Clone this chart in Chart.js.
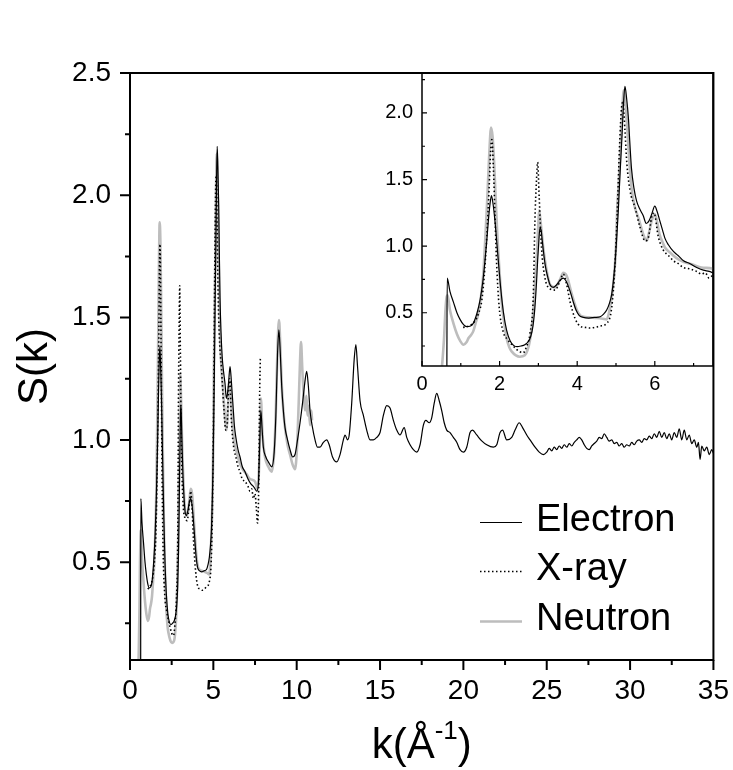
<!DOCTYPE html>
<html>
<head>
<meta charset="utf-8">
<script src="https://cdn.jsdelivr.net/npm/chart.js@4.4.1/dist/chart.umd.min.js"></script>
<style>
body { margin: 0; background: #fff; }
#wrap { position: relative; width: 733px; height: 770px; background: #fff; overflow: hidden; }
#main { position: absolute; left: 0; top: 0; }
#inset { position: absolute; left: 360px; top: 52px; }
</style>
</head>
<body>
<div id="wrap">
<canvas id="main" width="743" height="770"></canvas>
<canvas id="inset" width="363" height="351"></canvas>
</div>
<script>
// values: k in 1/A, S(k)
var electronK = [0.64,0.65,0.72,0.81,0.90,0.98,1.07,1.15,1.25,1.32,1.42,1.50,1.57,1.62,1.67,1.71,1.75,1.79,1.83,1.88,1.93,1.97,2.03,2.10,2.18,2.27,2.36,2.45,2.55,2.65,2.73,2.80,2.86,2.91,2.95,2.98,3.01,3.04,3.07,3.10,3.13,3.18,3.23,3.30,3.38,3.47,3.56,3.64,3.71,3.77,3.84,3.90,3.97,4.05,4.16,4.30,4.45,4.59,4.68,4.76,4.83,4.89,4.94,4.98,5.02,5.06,5.10,5.15,5.19,5.23,5.27,5.32,5.36,5.40,5.46,5.53,5.61,5.70,5.78,5.85,5.92,6.00,6.06,6.13,6.20,6.26,6.35,6.48,6.60,6.74,6.90,7.08,7.25,7.40,7.50,7.60,7.70,7.78,7.85,7.92,8.00,8.15,8.30,8.50,8.65,8.75,8.85,8.93,9.00,9.10,9.20,9.30,9.45,9.60,9.76,9.90,10.05,10.20,10.35,10.48,10.60,10.70,10.80,10.95,11.10,11.25,11.40,11.60,11.80,11.95,12.15,12.40,12.60,12.80,12.90,13.05,13.15,13.30,13.45,13.55,13.65,13.80,14.00,14.20,14.40,14.60,14.80,15.00,15.20,15.40,15.60,15.80,16.00,16.20,16.45,16.60,16.80,17.00,17.20,17.40,17.60,17.75,17.95,18.10,18.25,18.40,18.55,18.70,18.85,19.00,19.20,19.40,19.60,19.80,20.00,20.20,20.40,20.55,20.80,21.10,21.40,21.80,22.00,22.20,22.35,22.60,22.90,23.10,23.35,23.55,23.80,24.00,24.30,24.55,24.80,25.00,25.15,25.30,25.45,25.60,25.75,25.90,26.05,26.20,26.35,26.50,26.65,26.80,26.95,27.10,27.25,27.40,27.55,27.70,27.85,28.00,28.15,28.30,28.45,28.60,28.75,28.90,29.05,29.20,29.35,29.50,29.65,29.80,29.95,30.10,30.25,30.40,30.55,30.70,30.85,31.00,31.15,31.30,31.45,31.60,31.75,31.90,32.05,32.20,32.35,32.50,32.65,32.80,32.95,33.10,33.25,33.40,33.55,33.70,33.85,34.00,34.10,34.20,34.30,34.45,34.60,34.75,34.90,35.00];
var electronS = [0.02,0.76,0.66,0.58,0.50,0.45,0.41,0.395,0.40,0.42,0.50,0.60,0.74,0.88,1.04,1.19,1.31,1.38,1.32,1.19,1.02,0.88,0.68,0.50,0.37,0.29,0.255,0.245,0.25,0.26,0.28,0.32,0.40,0.54,0.72,0.89,1.03,1.14,1.12,1.04,0.96,0.85,0.78,0.71,0.69,0.71,0.745,0.76,0.74,0.70,0.64,0.58,0.52,0.48,0.465,0.46,0.465,0.47,0.49,0.52,0.57,0.64,0.76,0.89,1.07,1.27,1.52,1.80,2.05,2.20,2.12,1.96,1.76,1.58,1.44,1.34,1.28,1.23,1.17,1.19,1.24,1.30,1.26,1.19,1.12,1.06,1.01,0.96,0.93,0.89,0.87,0.84,0.82,0.81,0.80,0.79,0.82,0.98,1.12,1.05,0.97,0.93,0.91,0.89,0.95,1.10,1.35,1.45,1.38,1.22,1.12,1.05,1.00,0.96,0.93,0.94,1.00,1.07,1.15,1.23,1.28,1.22,1.12,1.05,1.00,0.97,0.97,0.99,1.00,0.98,0.93,0.91,0.94,1.00,1.02,1.00,1.02,1.15,1.33,1.39,1.30,1.16,1.10,1.04,1.00,1.00,1.01,1.03,1.10,1.14,1.13,1.08,1.04,1.02,1.05,1.01,0.98,0.96,0.95,0.98,1.06,1.08,1.07,1.09,1.15,1.19,1.16,1.12,1.07,1.04,1.03,1.01,0.99,0.96,0.95,0.97,1.03,1.04,1.02,0.996,0.98,0.97,0.98,1.03,1.04,1.00,1.01,1.04,1.07,1.05,1.02,1.00,0.97,0.95,0.94,0.95,0.965,0.955,0.97,0.96,0.975,0.965,0.98,0.97,0.985,0.975,0.99,1.00,1.01,1.00,0.98,0.965,0.96,0.975,0.985,0.995,1.01,1.005,1.025,1.01,0.995,1.00,0.985,0.99,0.975,0.985,0.97,0.98,0.975,0.99,0.98,0.995,1.00,0.99,1.005,1.00,1.015,1.005,1.025,1.01,1.035,1.01,1.03,1.005,1.025,1.00,1.03,1.01,1.045,1.00,1.04,1.00,1.02,0.985,1.00,0.97,0.99,0.92,0.975,0.955,0.97,0.94,0.96,0.945];

var xrayK = [1.06,1.20,1.37,1.45,1.54,1.60,1.67,1.73,1.77,1.80,1.84,1.88,1.92,1.99,2.09,2.20,2.35,2.50,2.61,2.70,2.78,2.87,2.91,2.95,2.98,3.02,3.08,3.17,3.30,3.43,3.56,3.64,3.73,3.81,3.94,4.07,4.20,4.33,4.46,4.59,4.76,4.89,4.97,5.03,5.09,5.15,5.18,5.23,5.28,5.36,5.49,5.62,5.75,5.83,5.92,5.98,6.09,6.22,6.35,6.48,6.60,6.73,6.90,7.08,7.20,7.30,7.40,7.50,7.58,7.65,7.72,7.78,7.82];
var xrayS = [0.39,0.40,0.44,0.49,0.59,0.76,1.07,1.44,1.72,1.80,1.59,1.24,0.89,0.54,0.36,0.30,0.25,0.21,0.20,0.25,0.34,0.64,1.19,1.49,1.63,1.37,0.99,0.76,0.68,0.67,0.74,0.79,0.71,0.59,0.46,0.40,0.39,0.385,0.39,0.40,0.42,0.54,0.84,1.24,1.74,2.06,2.08,1.87,1.62,1.42,1.29,1.14,1.04,1.06,1.22,1.25,1.07,0.97,0.93,0.89,0.87,0.84,0.83,0.81,0.79,0.80,0.76,0.78,0.72,0.66,0.80,1.20,1.34];

var neutronK = [0.46,0.50,0.53,0.57,0.60,0.63,0.66,0.72,0.81,0.90,0.98,1.07,1.15,1.20,1.26,1.32,1.40,1.45,1.52,1.58,1.63,1.68,1.73,1.78,1.82,1.86,1.90,1.94,2.00,2.05,2.12,2.18,2.25,2.31,2.42,2.52,2.65,2.72,2.78,2.84,2.89,2.93,2.97,3.00,3.02,3.05,3.08,3.12,3.17,3.23,3.30,3.43,3.56,3.64,3.70,3.75,3.86,3.93,3.99,4.08,4.16,4.30,4.50,4.65,4.76,4.84,4.90,4.95,5.00,5.03,5.08,5.12,5.16,5.20,5.24,5.29,5.34,5.40,5.48,5.58,5.70,5.79,5.85,5.92,6.00,6.06,6.12,6.20,6.26,6.40,6.56,6.75,6.99,7.20,7.50,7.65,7.75,7.85,7.95,8.10,8.30,8.50,8.65,8.75,8.85,8.94,9.02,9.10,9.20,9.30,9.45,9.60,9.75,9.90,10.02,10.12,10.20,10.26,10.33,10.42,10.50,10.58,10.65,10.72,10.80,10.88,10.92];
var neutronS = [0.00,0.05,0.15,0.32,0.50,0.61,0.63,0.52,0.42,0.34,0.29,0.26,0.28,0.31,0.33,0.36,0.44,0.49,0.62,0.79,1.05,1.34,1.67,1.89,1.82,1.62,1.35,1.09,0.80,0.59,0.42,0.31,0.24,0.21,0.18,0.17,0.18,0.22,0.29,0.42,0.59,0.80,0.99,1.18,1.27,1.20,1.12,1.00,0.89,0.79,0.71,0.69,0.75,0.80,0.79,0.76,0.64,0.57,0.52,0.48,0.47,0.465,0.46,0.455,0.45,0.53,0.64,0.77,1.00,1.27,1.52,1.77,2.00,2.17,2.08,1.89,1.65,1.44,1.30,1.21,1.09,1.04,1.10,1.19,1.24,1.18,1.09,1.03,0.99,0.95,0.91,0.88,0.86,0.84,0.83,0.80,0.90,1.17,1.02,0.93,0.89,0.87,0.95,1.12,1.38,1.49,1.38,1.23,1.12,1.05,0.98,0.94,0.90,0.88,0.97,1.15,1.32,1.40,1.30,1.18,1.12,1.18,1.10,1.14,1.06,1.12,1.08];

var mainXTicks = [0, 5, 10, 15, 20, 25, 30, 35];
var mainYTicks = [0.5, 1.0, 1.5, 2.0, 2.5];
var insetXTicks = [0, 2, 4, 6];
var insetYTicks = [0.5, 1.0, 1.5, 2.0];

var FONT = '"Liberation Sans", Arial, Helvetica, sans-serif';

function pts(ks, ss) {
    var out = [];
    for (var i = 0; i < ks.length; i++) out.push({x: ks[i], y: ss[i]});
    return out;
}

function makeDatasets() {
    return [
        {label: 'Electron', data: pts(electronK, electronS), borderColor: '#000', borderWidth: 1.2, order: 1},
        {label: 'X-ray', data: pts(xrayK, xrayS), borderColor: '#000', borderWidth: 1.6, borderDash: [1.5, 2.5], order: 2},
        {label: 'Neutron', data: pts(neutronK, neutronS), borderColor: '#bdbdbd', borderWidth: 2.6, order: 3}
    ];
}

// box round the plot and tick marks (major + minor)
var framePlugin = {
    id: 'frame',
    afterDraw: function(chart, args, o) {
        var ctx = chart.ctx, a = chart.chartArea;
        var xs = chart.scales.x, ys = chart.scales.y;
        var dir = o.inside ? -1 : 1;
        ctx.save();
        ctx.strokeStyle = '#000';
        ctx.lineWidth = o.tickWidth;
        ctx.beginPath();
        var v, p, len;
        for (v = Math.ceil(xs.min / o.xStep - 1e-9) * o.xStep; v <= xs.max + 1e-9; v += o.xStep) {
            p = xs.getPixelForValue(v);
            len = o.xMajor.some(function(t) { return Math.abs(t - v) < 1e-6; }) ? o.major : o.minor;
            ctx.moveTo(p, a.bottom);
            ctx.lineTo(p, a.bottom + dir * len);
        }
        for (v = Math.ceil(ys.min / o.yStep - 1e-9) * o.yStep; v <= ys.max + 1e-9; v += o.yStep) {
            p = ys.getPixelForValue(v);
            len = o.yMajor.some(function(t) { return Math.abs(t - v) < 1e-6; }) ? o.major : o.minor;
            ctx.moveTo(a.left, p);
            ctx.lineTo(a.left - dir * len, p);
        }
        ctx.stroke();
        ctx.lineWidth = o.width;
        ctx.strokeRect(a.left, a.top, a.right - a.left, a.bottom - a.top);
        ctx.restore();
    }
};

// legend and axis titles for the big chart
var labelsPlugin = {
    id: 'labels',
    afterDraw: function(chart) {
        var ctx = chart.ctx, a = chart.chartArea;
        ctx.save();
        ctx.fillStyle = '#000';
        // y title
        ctx.font = '42px ' + FONT;
        ctx.textAlign = 'center';
        ctx.textBaseline = 'middle';
        ctx.translate(35, (a.top + a.bottom) / 2);
        ctx.rotate(-Math.PI / 2);
        ctx.fillText('S(k)', 0, 0);
        ctx.setTransform(1, 0, 0, 1, 0, 0);
        // x title with superscript
        ctx.textBaseline = 'alphabetic';
        ctx.textAlign = 'left';
        var big = '42px ' + FONT, small = '26px ' + FONT;
        ctx.font = big;
        var w1 = ctx.measureText('k(Å').width, w3 = ctx.measureText(')').width;
        ctx.font = small;
        var w2 = ctx.measureText('-1').width;
        var x0 = (a.left + a.right) / 2 - (w1 + w2 + w3) / 2, base = 758;
        ctx.font = big;
        ctx.fillText('k(Å', x0, base);
        ctx.font = small;
        ctx.fillText('-1', x0 + w1, base - 19);
        ctx.font = big;
        ctx.fillText(')', x0 + w1 + w2, base);
        // legend
        var rows = [531, 580, 630];
        ctx.font = '38px ' + FONT;
        chart.data.datasets.forEach(function(ds, i) {
            var y = rows[i];
            ctx.save();
            ctx.strokeStyle = ds.borderColor;
            ctx.lineWidth = ds.borderWidth;
            ctx.setLineDash(ds.borderDash || []);
            ctx.beginPath();
            ctx.moveTo(480, y - 8.5);
            ctx.lineTo(522, y - 8.5);
            ctx.stroke();
            ctx.restore();
            ctx.fillText(ds.label, 536, y);
        });
        ctx.restore();
    }
};

function fixWidth(w) { return function(s) { s.width = w; }; }
function fixHeight(h) { return function(s) { s.height = h; }; }
function setTicks(list) { return function(s) { s.ticks = list.map(function(v) { return {value: v}; }); }; }

new Chart(document.getElementById('main'), {
    type: 'line',
    data: {datasets: makeDatasets()},
    plugins: [framePlugin, labelsPlugin],
    options: {
        responsive: false,
        animation: false,
        devicePixelRatio: 1,
        layout: {padding: {left: 0, top: 73, right: 10, bottom: 0}},
        elements: {point: {radius: 0}, line: {cubicInterpolationMode: 'monotone'}},
        scales: {
            x: {
                type: 'linear', min: 0, max: 35,
                afterBuildTicks: setTicks(mainXTicks),
                afterFit: fixHeight(110),
                grid: {display: false, tickLength: 0},
                border: {display: false},
                ticks: {color: '#000', padding: 14, maxRotation: 0, font: {family: FONT, size: 28}}
            },
            y: {
                type: 'linear', min: 0.1, max: 2.5,
                afterBuildTicks: setTicks(mainYTicks),
                afterFit: fixWidth(130),
                grid: {display: false, tickLength: 0},
                border: {display: false},
                ticks: {color: '#000', padding: 19, font: {family: FONT, size: 28},
                    callback: function(v) { return v.toFixed(1); }}
            }
        },
        plugins: {
            legend: {display: false},
            tooltip: {enabled: false},
            frame: {width: 2, tickWidth: 2, inside: false, major: 10, minor: 5,
                xStep: 2.5, yStep: 0.25, xMajor: mainXTicks, yMajor: mainYTicks}
        }
    }
});

var insetCanvas = document.getElementById('inset');
var inset = new Chart(insetCanvas, {
    type: 'line',
    data: {datasets: makeDatasets()},
    plugins: [framePlugin],
    options: {
        responsive: false,
        animation: false,
        devicePixelRatio: 1,
        layout: {padding: {left: 0, top: 0, right: 10, bottom: 0}},
        elements: {point: {radius: 0}, line: {cubicInterpolationMode: 'monotone'}},
        scales: {
            x: {
                type: 'linear', min: 0, max: 7.5,
                afterBuildTicks: setTicks(insetXTicks),
                afterFit: fixHeight(37),
                grid: {display: false, tickLength: 0},
                border: {display: false},
                ticks: {color: '#000', padding: 6, maxRotation: 0, font: {family: FONT, size: 20}}
            },
            y: {
                type: 'linear', min: 0.1, max: 2.3,
                afterBuildTicks: setTicks(insetYTicks),
                afterFit: fixWidth(62),
                grid: {display: false, tickLength: 0},
                border: {display: false},
                ticks: {color: '#000', padding: 9, font: {family: FONT, size: 20},
                    callback: function(v) { return v.toFixed(1); }}
            }
        },
        plugins: {
            legend: {display: false},
            tooltip: {enabled: false},
            frame: {width: 1.5, tickWidth: 1.2, inside: true, major: 5, minor: 3,
                xStep: 1, yStep: 0.25, xMajor: insetXTicks, yMajor: insetYTicks}
        }
    }
});
// line the inset's top edge up with the main frame
insetCanvas.style.top = (73 - inset.chartArea.top) + 'px';
</script>
</body>
</html>
